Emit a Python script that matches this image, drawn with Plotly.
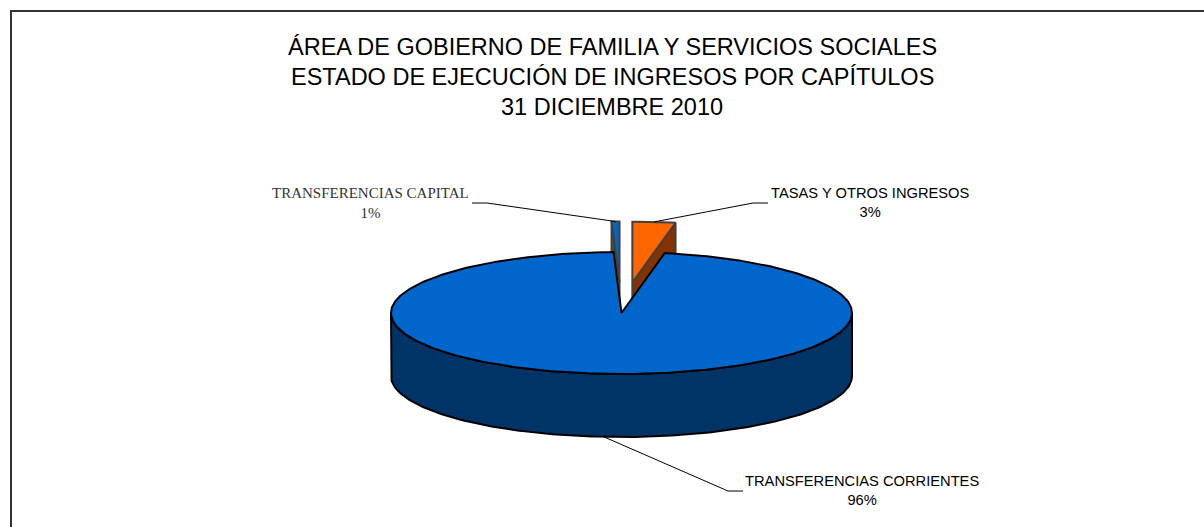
import numpy as np
import plotly.graph_objects as go

# ---------------- data ----------------
title_lines = [
    "ÁREA DE GOBIERNO DE FAMILIA Y SERVICIOS SOCIALES",
    "ESTADO DE EJECUCIÓN DE INGRESOS POR CAPÍTULOS",
    "31 DICIEMBRE 2010",
]
categories = ["TASAS Y OTROS INGRESOS", "TRANSFERENCIAS CORRIENTES", "TRANSFERENCIAS CAPITAL"]
values = [3.0, 96.45, 0.55]

# ---------------- style ----------------
top_colors = ["#FF6600", "#0066CC", "#0066CC"]
side_colors = ["#833300", "#003366", "#4F6000"]
edge_colors = ["#404040", "#000000", "#404040"]
explode = [0.5, 0.0, 0.5]
label_fonts = ["Liberation Sans", "Liberation Sans", "Liberation Serif"]
label_sizes = [14.7, 14.7, 15]
label_colors = ["#000000", "#000000", "#333333"]
label_pos = [(870, 202.5), (862, 490), (370, 202.5)]
elbow = [((753, 203), (768, 203)), ((728, 491), (743, 491)), ((487, 203), (472, 203))]

CX, CY, RX, RY, DEPTH = 621.5, 313.0, 230.5, 61.0, 63.0
W, H = 1204, 527

total = float(sum(values))
fracs = [v / total for v in values]
starts = np.concatenate([[0.0], np.cumsum(fracs)[:-1]]) * 360.0
ends = np.cumsum(fracs) * 360.0


def pt(theta, ox, oy, down=0.0):
    t = np.radians(theta)
    return CX + ox + RX * np.sin(t), CY + oy - RY * np.cos(t) + down


def arc(a0, a1, ox, oy, down=0.0, n=None):
    if n is None:
        n = max(2, int(abs(a1 - a0) / 1.0) + 2)
    th = np.linspace(a0, a1, n)
    t = np.radians(th)
    return CX + ox + RX * np.sin(t), CY + oy - RY * np.cos(t) + down


fig = go.Figure()


def poly(xs, ys, fill, edge, width=2):
    xs = list(xs) + [xs[0]]
    ys = list(ys) + [ys[0]]
    fig.add_trace(go.Scatter(x=xs, y=ys, mode="lines", fill="toself",
                             fillcolor=fill, line=dict(color=edge, width=width),
                             hoverinfo="skip", showlegend=False))


def draw_slice(i):
    a0, a1 = starts[i], ends[i]
    mid = np.radians((a0 + a1) / 2)
    ox = explode[i] * RX * np.sin(mid)
    oy = -explode[i] * RY * np.cos(mid)
    ax, ay = CX + ox, CY + oy
    # radial faces
    if np.sin(np.radians(a0)) < -1e-6:
        px, py = pt(a0, ox, oy)
        poly([ax, px, px, ax], [ay, py, py + DEPTH, ay + DEPTH], side_colors[i], edge_colors[i])
    if np.sin(np.radians(a1)) > 1e-6:
        px, py = pt(a1, ox, oy)
        poly([ax, px, px, ax], [ay, py, py + DEPTH, ay + DEPTH], side_colors[i], edge_colors[i])
    # outer wall (front half)
    w0, w1 = max(a0, 90.0), min(a1, 270.0)
    if w1 > w0:
        tx, ty = arc(w0, w1, ox, oy)
        bx, by = arc(w1, w0, ox, oy, DEPTH)
        poly(np.concatenate([tx, bx]), np.concatenate([ty, by]), side_colors[i], edge_colors[i])
    # top face
    tx, ty = arc(a0, a1, ox, oy)
    poly(np.concatenate([[ax], tx]), np.concatenate([[ay], ty]), top_colors[i], edge_colors[i])
    return ox, oy


# back (exploded) slices first, then the main one
order = sorted(range(len(values)), key=lambda k: -explode[k])
offsets = {}
for i in order:
    offsets[i] = draw_slice(i)

# leader lines and labels
for i in range(len(values)):
    a0, a1 = starts[i], ends[i]
    m = (a0 + a1) / 2
    ox, oy = offsets[i]
    if np.cos(np.radians(m)) < 0:
        sx, sy = pt(m, ox, oy, DEPTH)
    else:
        sx, sy = pt(m, ox, oy)
    (ex, ey), (hx, hy) = elbow[i]
    fig.add_trace(go.Scatter(x=[sx, ex, hx], y=[sy, ey, hy], mode="lines",
                             line=dict(color="#000000", width=1),
                             hoverinfo="skip", showlegend=False))
    pct = f"{round(values[i] / total * 100):.0f}%"
    lx, ly = label_pos[i]
    fig.add_annotation(x=lx, y=ly, xref="x", yref="y", showarrow=False,
                       text=f"{categories[i]}<br>{pct}", align="center",
                       xanchor="center", yanchor="middle",
                       font=dict(family=label_fonts[i], size=label_sizes[i], color=label_colors[i]))

# title
for k, line in enumerate(title_lines):
    fig.add_annotation(x=612, y=47 + 30 * k, xref="x", yref="y", showarrow=False,
                       text=line, xanchor="center", yanchor="middle",
                       font=dict(family="Liberation Sans", size=23.5, color="#000000"))

fig.update_layout(
    width=W, height=527, margin=dict(l=0, r=0, t=0, b=0),
    paper_bgcolor="white", plot_bgcolor="white",
    xaxis=dict(range=[0, W], visible=False, fixedrange=True),
    yaxis=dict(range=[H, 0], visible=False, fixedrange=True),
    shapes=[dict(type="path", path="M 11 600 L 11 11 L 1300 11", xref="x", yref="y",
                 line=dict(color="#333333", width=2))],
)

fig.write_html("out.html", config={"displayModeBar": False},
               post_script="document.body.style.margin='0';document.body.style.overflow='hidden';")
